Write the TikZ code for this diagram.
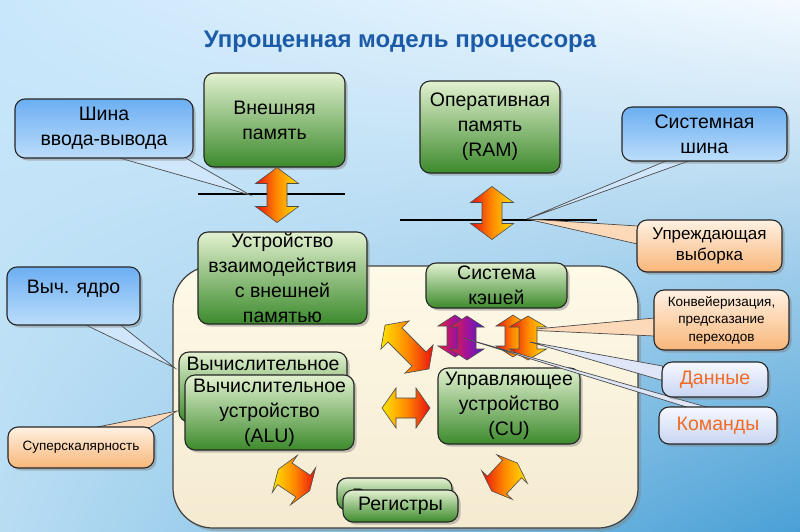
\documentclass[tikz,border=0pt]{standalone}
\usepackage{fontspec}
\setmainfont{Liberation Sans}
\usetikzlibrary{shadows,calc,shadings}
\pgfdeclarelayer{bg}\pgfdeclarelayer{wd}\pgfdeclarelayer{fg}\pgfdeclarelayer{fgtop}
\pgfsetlayers{bg,wd,main,fg,fgtop}
\definecolor{gtop}{HTML}{E2F1D0}
\definecolor{gbot}{HTML}{3C8A2C}
\definecolor{btop}{HTML}{6CAFF2}
\definecolor{bbot}{HTML}{BCDDFA}
\definecolor{otop}{HTML}{FFF1E2}
\definecolor{obot}{HTML}{F8B679}
\definecolor{ltop}{HTML}{F6F8FF}
\definecolor{lbot}{HTML}{C8D5F2}
\definecolor{ctop}{HTML}{FEFAE8}
\definecolor{cbot}{HTML}{F4EAD0}
\definecolor{ttl}{HTML}{1C5BA8}
\definecolor{txtor}{HTML}{F26A25}
\definecolor{ayel}{HTML}{FFE400}
\definecolor{aora}{HTML}{FF8A00}
\definecolor{ared}{HTML}{E81010}
\definecolor{ppur}{HTML}{4A20C8}
\definecolor{pmag}{HTML}{A0129A}
\definecolor{pred}{HTML}{E8203A}
\definecolor{bgul}{HTML}{C9E7FB}
\definecolor{bgur}{HTML}{F4FAFF}
\definecolor{bgll}{HTML}{B8DDF3}
\definecolor{bglr}{HTML}{4AA0D6}
\newcommand\fntA{\fontsize{19.5}{25}\selectfont}
\newcommand\fntB{\fontsize{17}{21}\selectfont}
\newcommand\fntC{\fontsize{13.5}{17.5}\selectfont}
% double arrow: #1 center, #2 angle, #3 length, #4 head width, #5 shaft width, #6 head length, #7 style
\newcommand\dblarrow[7]{%
\begin{scope}[shift={#1}, rotate=#2]
\shadedraw[#7] ({-#3/2},0) -- ({-#3/2+#6},{#4/2}) -- ({-#3/2+#6},{#5/2}) -- ({#3/2-#6},{#5/2}) -- ({#3/2-#6},{#4/2}) -- ({#3/2},0) -- ({#3/2-#6},{-#4/2}) -- ({#3/2-#6},{-#5/2}) -- ({-#3/2+#6},{-#5/2}) -- ({-#3/2+#6},{-#4/2}) -- cycle;
\end{scope}}
\tikzset{
  box/.style={draw=black!85, line width=1.1pt, rounded corners=10pt, inner sep=0pt, align=center,
    drop shadow={shadow xshift=2.5pt, shadow yshift=-2.5pt, opacity=0.45}},
  gbox/.style={box, top color=gtop, bottom color=gbot, font=\fntA},
  bbox/.style={box, top color=btop, bottom color=bbot, font=\fntA},
  obox/.style={box, top color=otop, bottom color=obot},
  lbox/.style={box, top color=ltop, bottom color=lbot, font=\fntA, text=txtor},
  wedgeb/.style={draw=black!70, line width=0.7pt, fill=bbot!70!white},
  wedgeo/.style={draw=black!70, line width=0.7pt, fill=otop!60!obot},
  wedgel/.style={draw=black!70, line width=0.7pt, fill=lbot!60!white},
  arr/.style={draw=black!70, line width=0.6pt},
  yr/.style={arr, left color=ared, right color=ayel, middle color=aora},
  ry/.style={arr, left color=ayel, right color=ared, middle color=aora},
  pr/.style={arr, left color=pred, right color=ppur, middle color=pmag},
  bus/.style={line width=2pt, black}
}
\begin{document}
\begin{tikzpicture}[x=1pt,y=-1pt]
\useasboundingbox (0,0) rectangle (800,531);
\begin{pgfonlayer}{bg}
\shade[upper left=bgul, upper right=bgur, lower left=bgll, lower right=bglr]
  (0,0) rectangle (800,531);
\node[draw=black!75, line width=1.2pt, rounded corners=40pt, top color=ctop, bottom color=cbot,
  minimum width=465pt, minimum height=262pt, inner sep=0pt,
  drop shadow={shadow xshift=3pt, shadow yshift=-3pt, opacity=0.4}] (core) at (405.5,397) {};
\coordinate (b1a) at (198,194); \coordinate (b1b) at (345,194);
\coordinate (b2a) at (400,220); \coordinate (b2b) at (597,220);
\draw[bus] (b1a) -- (b1b);
\draw[bus] (b2a) -- (b2b);
\end{pgfonlayer}

\node[font=\bfseries\fontsize{24}{28}\selectfont, text=ttl] (title) at (400,42) {Упрощенная модель процессора};

% boxes
\node[bbox, minimum width=178pt, minimum height=59pt] (shina) at (104,128.5) {Шина\\ввода-вывода};
\node[gbox, minimum width=141pt, minimum height=94pt] (vnesh) at (274.5,120) {Внешняя\\память};
\node[gbox, minimum width=140pt, minimum height=92pt] (ram) at (490,127) {Оперативная\\память\\(RAM)};
\node[bbox, minimum width=165pt, minimum height=54pt] (sysbus) at (704.5,134) {Системная\\шина};
\node[obox, font=\fntB, minimum width=145pt, minimum height=52pt] (pref) at (709.5,246) {Упреждающая\\выборка};
\node[gbox, minimum width=169pt, minimum height=92pt] (ustr) at (282.5,278) {Устройство\\взаимодействия\\с внешней\\памятью};
\node[gbox, minimum width=141pt, minimum height=45pt] (cache) at (496.5,285.5) {Система\\кэшей};
\node[bbox, minimum width=133pt, minimum height=58pt] (vych) at (73.5,296) {};
\node[font=\fntA] (vychtxt) at (73.5,289) {Выч. ядро};
\node[gbox, minimum width=168pt, minimum height=70pt] (alub) at (263,387) {};
\node[font=\fntA] (alubtxt) at (263,364) {Вычислительное};
\node[gbox, minimum width=169pt, minimum height=75pt] (alu) at (269.5,412.5) {Вычислительное\\устройство\\(ALU)};
\node[obox, font=\fntC, minimum width=146pt, minimum height=41pt] (super) at (81,447.5) {Суперскалярность};
\node[gbox, minimum width=142pt, minimum height=76pt] (cu) at (509,406) {Управляющее\\устройство\\(CU)};
\node[gbox, minimum width=115pt, minimum height=32pt] (regb) at (394.5,494) {};
\begin{scope}
\clip (330,470) rectangle (470,489);
\node[font=\fntA] (regbtxt) at (394.5,498) {Регистры};
\end{scope}
\node[gbox, minimum width=115pt, minimum height=32pt] (reg) at (400.5,506) {Регистры};
\node[obox, font=\fntC, minimum width=135pt, minimum height=60pt] (konv) at (721.5,320) {Конвейеризация,\\предсказание\\переходов};

% arrows
\dblarrow{(277,195)}{90}{55}{43}{20}{16}{yr}
\dblarrow{(492,213)}{90}{53}{43}{20}{16}{yr}
\dblarrow{(455,336)}{90}{42}{34}{16}{11}{pr}
\dblarrow{(467,338)}{90}{44}{34}{18}{11}{pr}
\dblarrow{(513,336)}{90}{42}{34}{16}{11}{yr}
\dblarrow{(528,338)}{90}{44}{37}{18}{11}{yr}
\dblarrow{(407,347)}{-45}{62}{40}{20}{14}{ry}
\dblarrow{(406,408)}{0}{48}{40}{20}{14}{ry}
\dblarrow{(294,480)}{-34}{38}{45}{26}{8}{ry}
\dblarrow{(504.5,477)}{47}{38}{42}{26}{8}{yr}

% callout pointers
\coordinate (t1) at (250,195);
\coordinate (t2) at (527,219);
\coordinate (t3) at (175,368);
\coordinate (t4) at (177,411);
\coordinate (t5) at (525,330);
\coordinate (t6) at (530,342);
\coordinate (t7) at (463,338);
\begin{pgfonlayer}{wd}
\filldraw[wedgeb] ($(shina.south)+(14,-1)$) -- (t1) -- ($(shina.south)+(81,-1)$) -- cycle;
\filldraw[wedgeb] ($(sysbus.south)+(-37.5,-1)$) -- (t2) -- ($(sysbus.south)+(-14.5,-1)$) -- cycle;
\filldraw[wedgeo] ($(pref.west)+(1,-20)$) -- (t2) -- ($(pref.west)+(1,-2)$) -- cycle;
\filldraw[wedgeb] ($(vych.south)+(11.5,-1)$) -- (t3) -- ($(vych.south)+(46.5,-1)$) -- cycle;
\filldraw[wedgeo] ($(super.north)+(14,1)$) -- (t4) -- ($(super.north)+(69,1)$) -- cycle;
\filldraw[wedgeo] ($(konv.west)+(1,-2)$) -- (t5) -- ($(konv.west)+(1,16)$) -- cycle;
\end{pgfonlayer}
\begin{pgfonlayer}{fgtop}
\node[lbox, minimum width=106pt, minimum height=35pt] (dannye) at (715,379.5) {Данные};
\node[lbox, minimum width=118pt, minimum height=37pt] (komandy) at (718,425.5) {Команды};
\end{pgfonlayer}
\begin{pgfonlayer}{fg}
\filldraw[wedgel] ($(dannye.west)+(1,-13.5)$) -- (t6) -- ($(dannye.west)+(1,1)$) -- cycle;
\filldraw[wedgel] ($(komandy.north)+(-30,1)$) -- (t7) -- ($(komandy.north)+(-10,1)$) -- cycle;
\end{pgfonlayer}
\end{tikzpicture}
\end{document}
